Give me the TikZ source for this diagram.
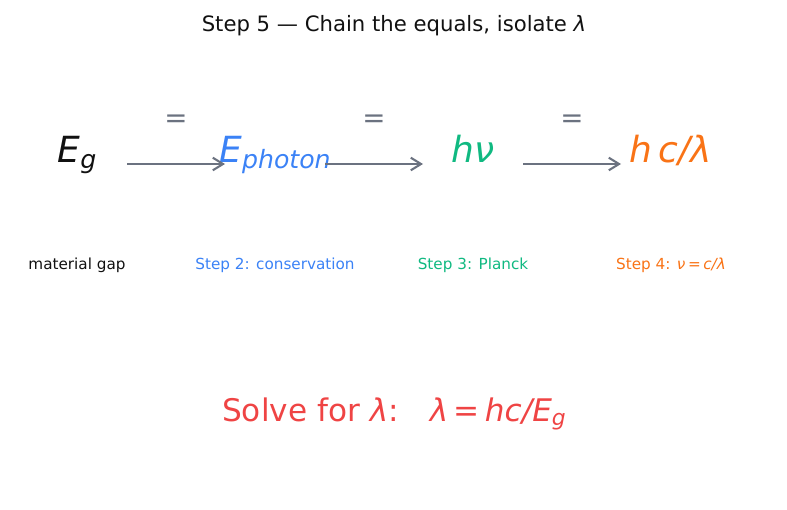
\documentclass[tikz,border=0pt]{standalone}
\usepackage{fontspec}
\setmainfont{DejaVu Sans}
\usetikzlibrary{arrows.meta,calc}

\definecolor{inkblack}{HTML}{111111}
\definecolor{stepblue}{HTML}{3B82F6}
\definecolor{stepgreen}{HTML}{10B981}
\definecolor{steporange}{HTML}{F97316}
\definecolor{solvered}{HTML}{EF4444}
\definecolor{arrowgray}{HTML}{6B7280}

\newcommand\lowsub[1]{\raisebox{-0.15em}{\scalebox{0.7}{#1}}}

\begin{document}
\begin{tikzpicture}[
    x=0.01in,
    y=-0.01in,
    term/.style={
        anchor=base,
        inner sep=0pt,
        font=\fontsize{26}{30}\selectfont\itshape
    },
    steplabel/.style={
        anchor=base,
        inner sep=0pt,
        font=\fontsize{11}{13}\selectfont
    },
    eqsign/.style={
        midway,
        yshift=31pt,
        inner sep=0pt,
        text=arrowgray,
        font=\fontsize{20}{24}\selectfont
    },
    arrow/.style={
        -{Straight Barb[length=2.6mm,width=3.2mm]},
        line width=1.5pt,
        draw=arrowgray
    }
]
\useasboundingbox (0,0) rectangle (787,510);

% ---------------- TITLE ----------------

\node[anchor=base, font=\fontsize{15.3}{18}\selectfont, text=inkblack] (title)
    at (394,32) {Step 5 — Chain the equals, isolate \textit{λ}};

% ---------------- CHAIN ----------------

\node[term, text=inkblack] (gap) at (77,163)
    {E\lowsub{g}};

\node[term, text=stepblue] (conserve) at (275,163)
    {E\lowsub{photon}};

\node[term, text=stepgreen] (planck) at (473,163)
    {hν};

\node[term, text=steporange] (wave) at (671,163)
    {h\,c/λ};

\draw[arrow] ($(gap.base)+(50,1)$)
    -- node[eqsign]{=} ($(conserve.base)+(-50,1)$);
\draw[arrow] ($(conserve.base)+(50,1)$)
    -- node[eqsign]{=} ($(planck.base)+(-50,1)$);
\draw[arrow] ($(planck.base)+(50,1)$)
    -- node[eqsign]{=} ($(wave.base)+(-50,1)$);

% ---------------- LABELS ----------------

\node[steplabel, text=inkblack] (gaplabel) at (77,269)
    {material gap};

\node[steplabel, text=stepblue] (conservelabel) at (275,269)
    {Step 2: conservation};

\node[steplabel, text=stepgreen] (plancklabel) at (473,269)
    {Step 3: Planck};

\node[steplabel, text=steporange] (wavelabel) at (671,269)
    {Step 4: \textit{ν}\,=\,\textit{c/λ}};

% ---------------- RESULT ----------------

\node[anchor=base, font=\fontsize{22.5}{26}\selectfont, text=solvered] (solve)
    at (394,421) {Solve for \textit{λ}:\quad\textit{λ}\,=\,\textit{hc/E}\lowsub{\textit{g}}};

\end{tikzpicture}
\end{document}
